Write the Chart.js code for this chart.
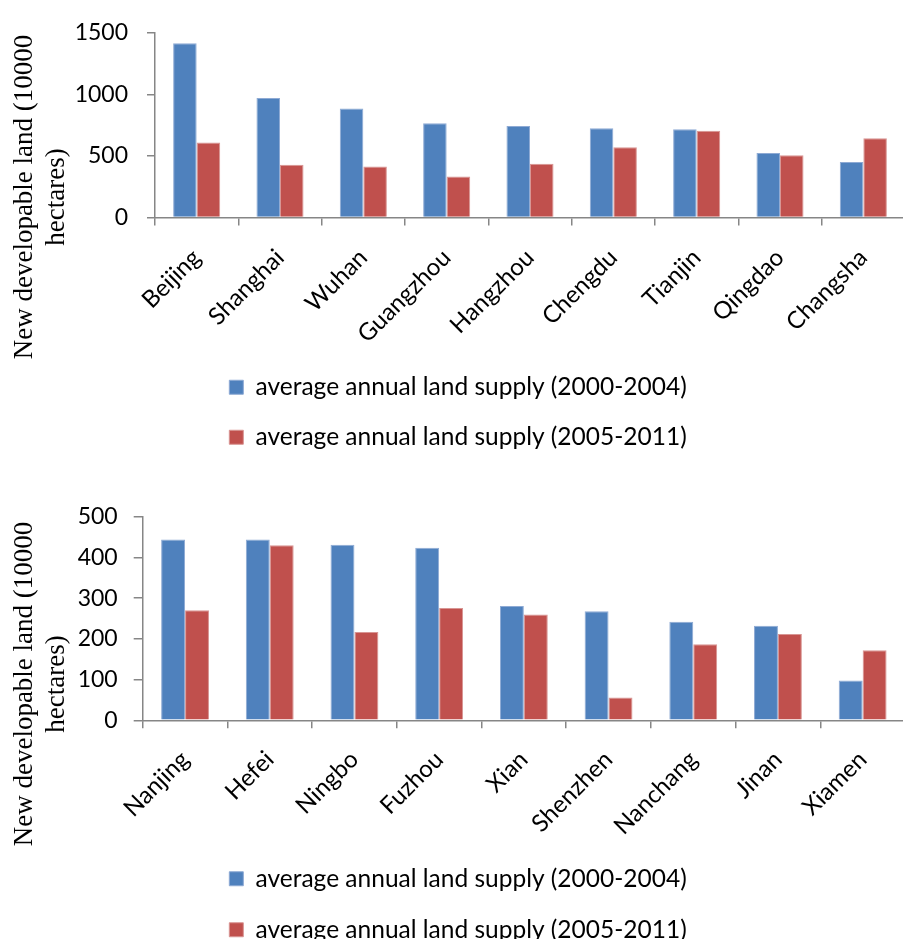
<!DOCTYPE html>
<html>
<head>
<meta charset="utf-8">
<script src="https://cdn.jsdelivr.net/npm/chart.js@4"></script>
<style>
  html, body { margin: 0; padding: 0; background: #fff; overflow: hidden; width: 903px; height: 939px; }
  .panel { position: absolute; left: 0; }
  #panelTop { top: 0; }
  #panelBottom { top: 470px; }
</style>
</head>
<body>
<div class="panel" id="panelTop"><canvas id="chartTop" width="905" height="470"></canvas></div>
<div class="panel" id="panelBottom"><canvas id="chartBottom" width="905" height="482"></canvas></div>
<script>
// Series names (legend)
const seriesNames = ['average annual land supply (2000-2004)', 'average annual land supply (2005-2011)'];

// Upper panel: large cities
const citiesTop = ['Beijing', 'Shanghai', 'Wuhan', 'Guangzhou', 'Hangzhou', 'Chengdu', 'Tianjin', 'Qingdao', 'Changsha'];
const supply2000to2004Top = [1415, 971, 886, 765, 743, 725, 717, 524, 450];
const supply2005to2011Top = [609, 429, 415, 333, 437, 571, 704, 505, 643];
const yTicksTop = [0, 500, 1000, 1500];

// Lower panel: other cities
const citiesBottom = ['Nanjing', 'Hefei', 'Ningbo', 'Fuzhou', 'Xian', 'Shenzhen', 'Nanchang', 'Jinan', 'Xiamen'];
const supply2000to2004Bottom = [444, 444, 431, 424, 281, 268, 242, 232, 98];
const supply2005to2011Bottom = [270, 430, 217, 276, 260, 56, 187, 212, 172];
const yTicksBottom = [0, 100, 200, 300, 400, 500];

// Y-axis title, split over two lines
const axisTitleLines = ['New developable land (10000', 'hectares)'];

const BLUE = '#4F81BD', BLUE_EDGE = '#8EAAD4';
const RED = '#C0504D', RED_EDGE = '#D89593';
const AXIS = '#868686';

Chart.defaults.font.family = 'Lato, "Open Sans", sans-serif';
Chart.defaults.color = '#000';

// Rotated two-line title to the left of the value axis
function sideTitle(centerY) {
  return {
    id: 'sideTitle',
    afterDraw(chart) {
      const ctx = chart.ctx;
      const xs = [25, 57];
      ctx.save();
      ctx.font = '27px "Liberation Serif", "Times New Roman", serif';
      ctx.fillStyle = '#000';
      ctx.textAlign = 'center';
      ctx.textBaseline = 'middle';
      axisTitleLines.forEach((line, i) => {
        ctx.save();
        ctx.translate(xs[i], centerY);
        ctx.rotate(-Math.PI / 2);
        ctx.fillText(line, 0, 0);
        ctx.restore();
      });
      ctx.restore();
    }
  };
}

function makeChart(canvasId, cities, first, second, yTicks, cfg) {
  return new Chart(document.getElementById(canvasId), {
    type: 'bar',
    data: {
      labels: cities,
      datasets: [
        { label: seriesNames[0], data: first, backgroundColor: BLUE, borderColor: BLUE_EDGE, borderWidth: 1 },
        { label: seriesNames[1], data: second, backgroundColor: RED, borderColor: RED_EDGE, borderWidth: 1 }
      ]
    },
    options: {
      responsive: false,
      animation: false,
      devicePixelRatio: 1,
      layout: { padding: { left: 11, right: 0, top: cfg.padTop, bottom: cfg.padBottom } },
      datasets: { bar: { categoryPercentage: 0.565, barPercentage: 1 } },
      scales: {
        x: {
          afterFit: s => { s.height = cfg.xAxisHeight; },
          grid: { offset: true, drawOnChartArea: false, drawTicks: true, tickLength: 8, color: AXIS, lineWidth: 1.5 },
          border: { display: true, color: AXIS, width: 1.5 },
          ticks: { autoSkip: false, minRotation: 45, maxRotation: 45, padding: cfg.xLabelPad, font: { size: 24 }, color: '#000' }
        },
        y: {
          min: yTicks[0],
          max: yTicks[yTicks.length - 1],
          afterBuildTicks: s => { s.ticks = yTicks.map(v => ({ value: v })); },
          afterFit: s => { s.width = cfg.yAxisWidth; },
          grid: { drawOnChartArea: false, drawTicks: true, tickLength: cfg.yTickLen, color: AXIS, lineWidth: 1.5 },
          border: { display: true, color: AXIS, width: 1.5 },
          ticks: { padding: cfg.yLabelPad, font: { size: 23 }, color: '#000', callback: v => String(v) }
        }
      },
      plugins: {
        legend: {
          position: 'bottom',
          align: 'center',
          labels: { boxWidth: 14, boxHeight: 14, padding: cfg.legendPad, font: { size: 24.5 }, color: '#000' }
        },
        tooltip: { enabled: false }
      }
    },
    plugins: [sideTitle(cfg.titleCenterY)]
  });
}

makeChart('chartTop', citiesTop, supply2000to2004Top, supply2005to2011Top, yTicksTop, {
  padTop: 29, padBottom: 10.5, xAxisHeight: 132, yAxisWidth: 144,
  yTickLen: 8, yLabelPad: 19, xLabelPad: 18, legendPad: 25.5, titleCenterY: 197
});

makeChart('chartBottom', citiesBottom, supply2000to2004Bottom, supply2005to2011Bottom, yTicksBottom, {
  padTop: 46.7, padBottom: 0, xAxisHeight: 119.7, yAxisWidth: 131.7,
  yTickLen: 9, yLabelPad: 16, xLabelPad: 17, legendPad: 26.5, titleCenterY: 214
});
</script>
</body>
</html>
